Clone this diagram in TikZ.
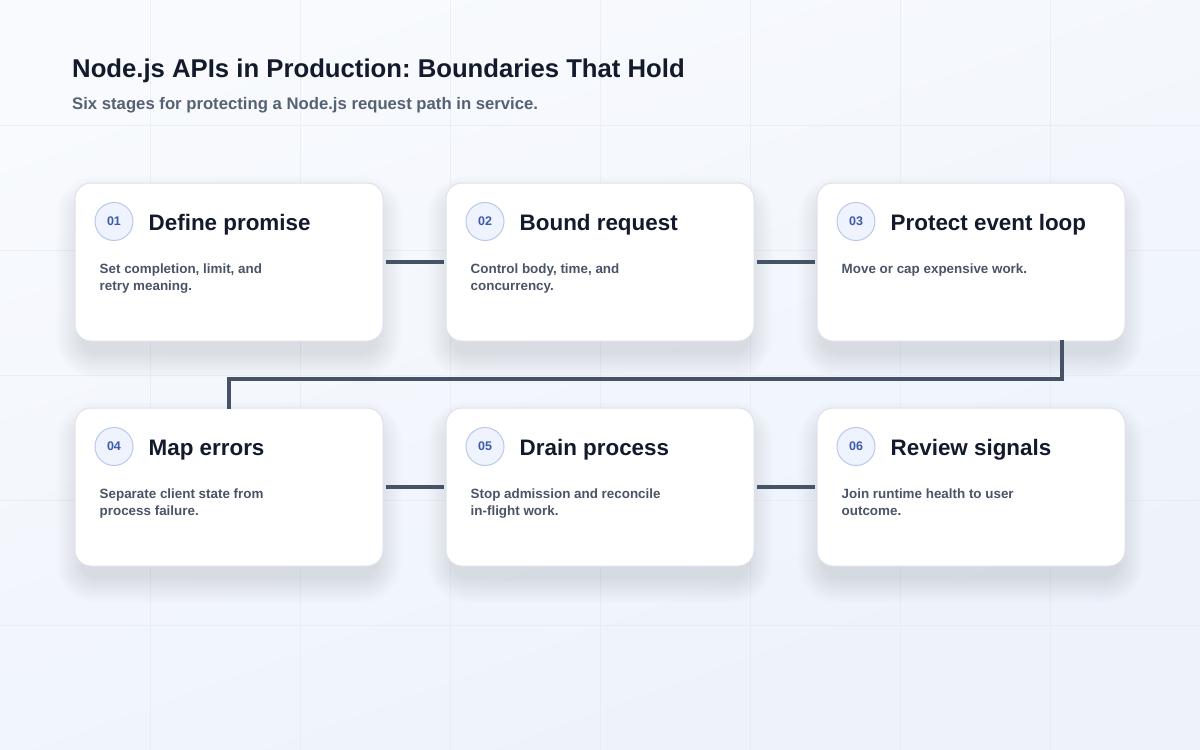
\documentclass[tikz,border=0pt]{standalone}
\usepackage{fontspec}
\setmainfont{Liberation Sans}
\frenchspacing
\usetikzlibrary{calc}
\definecolor{bgA}{HTML}{F8FAFD}
\definecolor{bgB}{HTML}{EDF2FB}
\definecolor{gridc}{HTML}{E3E9F2}
\definecolor{titlec}{HTML}{121A2B}
\definecolor{subc}{HTML}{566173}
\definecolor{descc}{HTML}{4A5466}
\definecolor{cardb}{HTML}{DCE2EC}
\definecolor{linkc}{HTML}{465367}
\definecolor{numfill}{HTML}{EEF3FD}
\definecolor{numdraw}{HTML}{B8C9EA}
\definecolor{numtext}{HTML}{3A5BAC}
\definecolor{shadc}{HTML}{4A5A85}
\pgfdeclarelayer{back}
\pgfdeclarelayer{shadow}
\pgfsetlayers{back,shadow,main}
\tikzset{
  card/.style={rectangle, rounded corners=16pt, minimum width=308pt, minimum height=158pt,
    fill=white, draw=cardb, line width=1pt},
  numbadge/.style={circle, minimum size=38pt, inner sep=0pt, fill=numfill, draw=numdraw, line width=1pt,
    text=numtext, font=\bfseries\fontsize{12.5}{14}\selectfont},
  cardtitle/.style={anchor=base west, inner sep=0pt, text=titlec, font=\bfseries\fontsize{22.4}{26}\selectfont},
  carddesc/.style={anchor=north west, inner sep=0pt, align=left, text=descc, font=\bfseries\fontsize{13.4}{17}\selectfont},
  link/.style={draw=linkc, line width=4pt},
}
\begin{document}
\begin{tikzpicture}[x=1pt,y=-1pt]
\useasboundingbox (0,0) rectangle (1200,750);
\begin{pgfonlayer}{back}
\shade[shading=axis, top color=bgA, bottom color=bgB, shading angle=20] (0,0) rectangle (1200,750);
\foreach \gx in {150,300,...,1050} \draw[gridc, opacity=0.6, line width=1pt] (\gx,0) -- (\gx,750);
\foreach \gy in {125,250,...,625} \draw[gridc, opacity=0.6, line width=1pt] (0,\gy) -- (1200,\gy);
\end{pgfonlayer}

\node[anchor=base west, inner sep=0pt, text=titlec, font=\bfseries\fontsize{25.7}{30}\selectfont] (title) at (72,77) {Node.js APIs in Production: Boundaries That Hold};
\node[anchor=base west, inner sep=0pt, text=subc, font=\bfseries\fontsize{16.7}{20}\selectfont] (subtitle) at (72,109.5) {Six stages for protecting a Node.js request path in service.};

% cards
\node[card] (c1) at (229,262) {};
\node[card] (c2) at (600,262) {};
\node[card] (c3) at (971,262) {};
\node[card] (c4) at (229,487) {};
\node[card] (c5) at (600,487) {};
\node[card] (c6) at (971,487) {};

% soft shadows
\begin{pgfonlayer}{shadow}
\foreach \c in {c1,c2,c3,c4,c5,c6} {
  \foreach \i in {0,2,...,24} {
    \fill[shadc, opacity=0.012, rounded corners=16pt+\i pt]
      ($(\c.north west)+(6-\i,18-\i)$) rectangle ($(\c.south east)+(-6+\i,12+\i)$);
  }
}
\end{pgfonlayer}

% connectors
\draw[link] ([xshift=2pt]c1.east) -- ([xshift=-2pt]c2.west);
\draw[link] ([xshift=2pt]c2.east) -- ([xshift=-2pt]c3.west);
\draw[link] ([xshift=2pt]c4.east) -- ([xshift=-2pt]c5.west);
\draw[link] ([xshift=2pt]c5.east) -- ([xshift=-2pt]c6.west);
\coordinate (turn) at (1062,379);
\draw[link] ([yshift=2pt]c3.south -| turn) -- (turn) -- (turn -| c4.north) -- ([yshift=-1pt]c4.north);

% card contents
\foreach \c/\n/\t/\d in {
  c1/01/Define promise/{Set completion, limit, and\\retry meaning.},
  c2/02/Bound request/{Control body, time, and\\concurrency.},
  c3/03/Protect event loop/{Move or cap expensive work.},
  c4/04/Map errors/{Separate client state from\\process failure.},
  c5/05/Drain process/{Stop admission and reconcile\\in-flight work.},
  c6/06/Review signals/{Join runtime health to user\\outcome.}} {
  \node[numbadge] (\c-num) at ($(\c.north west)+(39.5,39)$) {\n};
  \node[cardtitle] (\c-title) at ($(\c.north west)+(74,47.5)$) {\t};
  \node[carddesc] (\c-desc) at ($(\c.north west)+(25,81)$) {\d};
}
\end{tikzpicture}
\end{document}
